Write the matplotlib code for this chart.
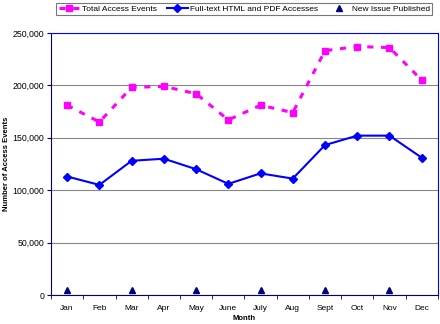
import numpy as np
import matplotlib
matplotlib.use("Agg")
import matplotlib.pyplot as plt

plt.rcParams['font.family'] = ['Liberation Sans', 'DejaVu Sans']

months = ["Jan", "Feb", "Mar", "Apr", "May", "June", "July", "Aug", "Sept", "Oct", "Nov", "Dec"]
total_events = [181000, 165000, 198000, 199000, 192000, 167000, 181000, 174000, 233000, 237000, 236000, 205000]
fulltext = [113000, 105000, 128000, 130000, 120000, 106000, 116000, 111000, 143000, 152000, 152000, 131000]
issue_months = ["Jan", "Mar", "May", "July", "Sept", "Nov"]
issue_values = [5000, 5000, 5000, 5000, 5000, 5000]

x = np.arange(len(months))
issue_x = [months.index(m) for m in issue_months]

fig = plt.figure(figsize=(4.4, 3.24), dpi=100)
ax = fig.add_axes([0.116, 0.0895, 0.879, 0.809])

ax.plot(x, total_events, color="#FF00FF", linestyle=(0, (2, 2.5)), linewidth=2.2,
        marker="s", markersize=5, label="Total Access Events")
ax.plot(x, fulltext, color="#0000FF", linewidth=1.5, marker="D", markersize=4,
        label="Full-text HTML and PDF Accesses")
ax.plot(issue_x, issue_values, linestyle="none", marker="^", markersize=4,
        color="#000080", label="New Issue Published")

ax.set_xlim(-0.5, len(months) - 0.5)
ax.set_ylim(0, 250000)
ax.set_yticks(np.arange(0, 250001, 50000))
ax.set_yticklabels([f"{v:,}" for v in range(0, 250001, 50000)], fontsize=6.3)
ax.set_xticks(x)
ax.set_xticklabels(months, fontsize=6)
ax.set_xticks(np.arange(-0.5, len(months), 1), minor=True)
ax.tick_params(axis="x", which="major", length=0, pad=7)
ax.tick_params(axis="x", which="minor", length=3, color="#000080")
ax.tick_params(axis="y", length=3, color="#000080", pad=2)

ax.grid(axis="y", color="#888888", linewidth=0.8)
ax.set_axisbelow(True)
for side in ["left", "bottom"]:
    ax.spines[side].set_color("#000080")
for side in ["top", "right"]:
    ax.spines[side].set_color("#0000FF")

ax.set_ylabel("Number of Access Events", fontsize=5.5, fontweight="bold", labelpad=2)
ax.set_xlabel("Month", fontsize=5.5, fontweight="bold", labelpad=2)

leg = fig.legend(loc="center", bbox_to_anchor=(0.555, 0.972), ncol=3, fontsize=6,
                 frameon=True, fancybox=False, edgecolor="#555555", handlelength=2.5,
                 columnspacing=1.2, handletextpad=0.3, borderpad=0.3)
leg.get_frame().set_linewidth(0.8)

fig.savefig("out.png", dpi=100)
